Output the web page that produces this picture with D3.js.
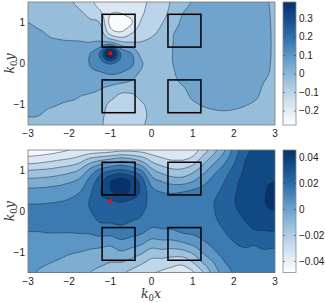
<!DOCTYPE html>
<html>
<head>
<meta charset="utf-8">
<script src="https://cdn.jsdelivr.net/npm/d3@7"></script>
<style>
  body { margin: 0; background: #fff; }
  svg { display: block; }
</style>
</head>
<body>
<script>
// grid positions (k0 x, k0 y)
const gridX = [-3, -2.75, -2.5, -2.25, -2, -1.75, -1.5, -1.25, -1, -0.75, -0.5, -0.25, 0,
  0.25, 0.5, 0.75, 1, 1.25, 1.5, 1.75, 2, 2.25, 2.5, 2.75, 3];
const gridY = [1.5, 1.25, 1, 0.75, 0.5, 0.25, 0, -0.25, -0.5, -0.75, -1, -1.25, -1.5];

// field values, one column (fixed x) per line, top to bottom, in units of 0.01
const topColumns = [
  [-2, -0.5, 2, 4, 5, 5.5, 6, 6, 5.5, 4.5, 3.5, 2.3, 1],
  [-2.5, -1.2, 0.5, 3, 5, 5.7, 6.2, 6.3, 5.8, 4.8, 3.8, 2.2, 0.8],
  [-3, -1.8, -0.5, 1.4, 3.3, 5.8, 6.5, 6.5, 6, 5, 2.8, 1, 0.3],
  [-3.5, -2.3, -1, 0.8, 2.8, 6, 6.8, 6.8, 6.2, 4.8, 2, 0.8, 0],
  [-5, -3, -1.2, 0.5, 2.6, 6.3, 7.2, 7.2, 6.5, 4.5, 1, 0.2, -0.5],
  [-8, -5, -2, 0.5, 2.5, 6.8, 7.8, 7.5, 6.5, 2.6, 0.8, -0.2, -1],
  [-12, -8.5, -4.5, -1, 2.4, 9.5, 10.2, 8.5, 6, 1.8, 0, -1, -1.5],
  [-17, -13, -6.5, -2, 3.5, 19, 14, 9, 4, 0.5, -2.5, -4, -4.5],
  [-18, -21, -24, -17, 5, 48, 19, 10.5, 3, -2.5, -7.5, -9, -10],
  [-17, -21.5, -26, -21, -3, 18, 14, 9.5, 1.5, -6.5, -10, -12, -12.5],
  [-16, -18, -23, -15, -5, 10.5, 12, 6, 0, -6.5, -11, -13, -13.5],
  [-16, -15.5, -13, -9, -5.5, -0.5, 3, 0.5, -3, -4, -6.8, -7.5, -7],
  [-12, -10, -8.5, -7, -4.5, -2, -1, -1.5, -2.5, -3.5, -4.5, -5, -5],
  [-9.5, -8, -6.3, -4.5, -2.5, -0.5, 0, -0.5, -1, -1.5, -2, -2.5, -3],
  [-5, -4, -2.5, 1, 1.6, 1.9, 1.8, 1, 0.5, 0, -0.5, -1, -1.5],
  [-1, 1.5, 3.5, 5, 5.5, 5.5, 5.2, 4.5, 2.3, 0, -1, -1.5, -2],
  [2.5, 4.5, 6, 6.5, 7, 7, 7, 6.5, 5, 3.5, 1, -0.5, -1],
  [4, 5.5, 7, 7.5, 8, 8, 8, 7.5, 6.5, 5, 2.5, 0, -1],
  [4.5, 6, 7.5, 8, 8.5, 8.5, 8.5, 8, 7, 5.5, 3.5, 0.5, -1],
  [4.5, 6, 7.5, 8, 8.5, 8.5, 8.5, 8, 7, 5.8, 4, 0.8, -1],
  [4.5, 6, 7.2, 7.8, 8.2, 8.3, 8.2, 7.8, 6.8, 5.5, 3.5, 0.5, -1],
  [4.2, 5.5, 6.5, 7.2, 7.5, 7.5, 7.4, 7, 6, 4.8, 2.5, 0, -1.2],
  [3.8, 4.8, 5.6, 6.2, 6.5, 6.5, 6.3, 5.8, 4.8, 3.6, 1.2, -0.5, -1.5],
  [3, 3.6, 4, 4.3, 4.5, 4.5, 4.2, 3.2, 1.5, 0.3, -0.5, -1.2, -1.8],
  [0.5, 0.6, 0.7, 0.8, 0.8, 0.7, 0.5, 0.5, -0.3, -0.8, -1.2, -1.6, -2]
];

const bottomColumns = [
  [-4.6, -3.5, -2, -0.75, 0.22, 0.78, 1.45, 1.4, 1, 0.75, 0.55, 0.35, 0.15],
  [-4.5, -3.4, -1.9, -0.7, 0.25, 0.8, 1.45, 1.4, 1, 0.7, 0.45, 0.2, -0.05],
  [-4.4, -3.2, -1.8, -0.6, 0.3, 0.85, 1.5, 1.4, 1.05, 0.65, 0.35, 0.05, -0.25],
  [-4.2, -3, -1.6, -0.45, 0.4, 0.95, 1.55, 1.45, 1.05, 0.6, 0.25, -0.1, -0.45],
  [-4, -2.8, -1.35, -0.2, 0.6, 1.1, 1.6, 1.5, 1.05, 0.55, 0.1, -0.3, -0.7],
  [-3.8, -2.4, -0.9, 0.2, 0.9, 1.4, 1.7, 1.55, 1.1, 0.5, 0, -0.45, -0.85],
  [-3.6, -1.6, 0.25, 1.3, 1.75, 2.05, 1.95, 1.65, 1.15, 0.45, -0.15, -0.6, -1],
  [-3.5, -1.1, 1.3, 2.5, 2.95, 2.7, 2.4, 2.05, 1.4, 0.5, -0.3, -0.8, -1.2],
  [-3.4, -0.7, 1.9, 3.85, 3.9, 2.9, 2.55, 2.1, 1.4, 0.4, -0.5, -1, -1.4],
  [-3.2, -0.3, 2.2, 4.35, 4.6, 3.1, 2.6, 2.2, 1.6, 0.8, -0.1, -1, -1.8],
  [-3.2, -0.6, 1.8, 3.85, 3.85, 2.9, 2.4, 2, 1.4, 0.6, -0.4, -1.3, -2.2],
  [-3.3, -1.2, 1, 2.5, 2.8, 2.5, 2.15, 1.8, 1.2, 0.3, -0.8, -1.8, -2.6],
  [-3.5, -2.2, -0.7, 0.5, 1.3, 1.6, 1.6, 1.35, 0.7, -0.3, -1.4, -2.3, -2.9],
  [-3.7, -2.7, -1.4, -0.1, 0.9, 1.4, 1.55, 1.35, 0.8, -0.2, -1.3, -2.4, -3.1],
  [-3.8, -3, -1.8, -0.5, 0.8, 1.35, 1.5, 1.35, 0.85, -0.2, -1.4, -2.6, -3.3],
  [-3.8, -3, -1.8, -0.55, 0.9, 1.35, 1.5, 1.35, 1.1, 0.05, -1.3, -2.7, -3.5],
  [-3.5, -2.6, -1.3, -0.1, 1.1, 1.5, 1.6, 1.5, 1.2, 0.4, -0.8, -2, -3.1],
  [-2.5, -1.5, -0.4, 0.6, 1.35, 1.7, 1.75, 1.65, 1.4, 0.9, 0.1, -0.9, -2],
  [-1.4, -0.4, 0.6, 1.3, 1.7, 1.95, 1.95, 1.85, 1.6, 1.3, 0.8, 0, -0.6],
  [-0.2, 0.6, 1.4, 1.9, 2.2, 2.4, 2.35, 2.2, 1.95, 1.7, 1.35, 0.9, 0.4],
  [1.3, 1.8, 2.3, 2.7, 2.85, 2.95, 2.85, 2.6, 2.3, 2, 1.7, 1.4, 1.1],
  [2.6, 2.9, 3.1, 3.25, 3.35, 3.4, 3.2, 2.95, 2.55, 2.2, 1.85, 1.55, 1.3],
  [3.2, 3.4, 3.55, 3.7, 3.85, 3.9, 3.7, 3.35, 2.9, 2.15, 1.85, 1.7, 1.45],
  [3.5, 3.65, 3.8, 3.9, 3.95, 3.98, 3.85, 3.5, 2.95, 2.35, 1.9, 1.7, 1.5],
  [3.7, 3.8, 3.85, 3.95, 4.4, 4.5, 3.95, 3.55, 3, 2.3, 1.85, 1.6, 1.5]
];

// contour levels (units of 0.01)
const topLevels = [-22, -14, -6, 2, 10, 18, 26, 34, 42];
const bottomLevels = [-4, -3, -2, -1, 0, 1, 2, 3, 4];

// colour bar ranges and ticks
const topRange = [-0.276, 0.389];
const bottomRange = [-0.0485, 0.0458];
const topBarTicks = [-0.2, -0.1, 0, 0.1, 0.2, 0.3];
const bottomBarTicks = [-0.04, -0.02, 0, 0.02, 0.04];
const axisTicksX = [-3, -2, -1, 0, 1, 2, 3];
const axisTicksY = [-1, 0, 1];

// scatterers (squares) and source
const boxX0 = [-1.2, 0.4, -1.2, 0.4];
const boxY0 = [0.4, 0.4, -1.2, -1.2];
const boxSize = 0.8;
const source = [-1, 0.25];

const cmapStops = [0, 0.114, 0.265, 0.415, 0.565, 0.716, 0.866, 1];
const cmapColors = ["#ffffff", "#e3edf6", "#bcd4e9", "#8cb8d8", "#5d97c6", "#2f6faa", "#134d8a", "#08306b"];
const cmap = d3.scaleLinear().domain(cmapStops).range(cmapColors).clamp(true);

const W = 325, H = 303;
const svg = d3.select("body").append("svg").attr("width", W).attr("height", H)
  .style("font-family", "'Liberation Sans', Arial, sans-serif");

const x = d3.scaleLinear().domain([-3, 3]).range([28, 275]);

// smooth the grid for drawing (Catmull-Rom, clamped to each cell)
function refine(columns, f) {
  const nx = columns.length, ny = columns[0].length;
  const g = (i, j) => columns[Math.max(0, Math.min(nx - 1, i))][Math.max(0, Math.min(ny - 1, j))];
  const cr = (p0, p1, p2, p3, t) =>
    0.5 * (2 * p1 + (p2 - p0) * t + (2 * p0 - 5 * p1 + 4 * p2 - p3) * t * t + (3 * p1 - p0 - 3 * p2 + p3) * t * t * t);
  const NX = (nx - 1) * f + 1, NY = (ny - 1) * f + 1;
  const out = new Float64Array(NX * NY);
  for (let J = 0; J < NY; J++) {
    const j = Math.min(ny - 2, Math.floor(J / f)), ty = J / f - j;
    for (let I = 0; I < NX; I++) {
      const i = Math.min(nx - 2, Math.floor(I / f)), tx = I / f - i;
      const r = [-1, 0, 1, 2].map(dj => cr(g(i - 1, j + dj), g(i, j + dj), g(i + 1, j + dj), g(i + 2, j + dj), tx));
      let v = cr(r[0], r[1], r[2], r[3], ty);
      const c = [g(i, j), g(i + 1, j), g(i, j + 1), g(i + 1, j + 1)];
      v = Math.max(Math.min(...c), Math.min(Math.max(...c), v));
      out[J * NX + I] = v;
    }
  }
  return {values: out, NX, NY};
}

function panel(opts) {
  const {columns, levels, range, barTicks, top, bottom, id, fmt, showXLabel} = opts;
  const y = d3.scaleLinear().domain([-1.5, 1.5]).range([bottom, top]);
  const norm = v => (v / 100 - range[0]) / (range[1] - range[0]);
  const step = levels[1] - levels[0];
  const bandColor = v => cmap(norm(v));

  const f = 8;
  const {values, NX, NY} = refine(columns, f);
  const dxs = (gridX[gridX.length - 1] - gridX[0]) / (NX - 1);
  const dys = (gridY[0] - gridY[gridY.length - 1]) / (NY - 1);
  const proj = d3.geoTransform({
    point(u, v) {
      this.stream.point(x(gridX[0] + (u - 0.5) * dxs), y(gridY[0] - (v - 0.5) * dys));
    }
  });
  const path = d3.geoPath(proj);
  const contours = d3.contours().size([NX, NY]).thresholds(levels)(values);

  svg.append("clipPath").attr("id", id)
    .append("rect").attr("x", x(-3)).attr("y", top).attr("width", x(3) - x(-3)).attr("height", bottom - top);

  const g = svg.append("g").attr("clip-path", `url(#${id})`);
  g.append("rect").attr("x", x(-3)).attr("y", top).attr("width", x(3) - x(-3)).attr("height", bottom - top)
    .attr("fill", bandColor(levels[0] - step / 2));
  g.selectAll("path.fill").data(contours).join("path").attr("class", "fill")
    .attr("d", path).attr("fill", d => bandColor(d.value + step / 2)).attr("stroke", "none");
  g.selectAll("path.line").data(contours).join("path").attr("class", "line")
    .attr("d", path).attr("fill", "none").attr("stroke", "#1e2a36").attr("stroke-width", 0.6).attr("stroke-opacity", 0.85);

  // scatterers
  g.selectAll("rect.box").data(boxX0).join("rect").attr("class", "box")
    .attr("x", (d) => x(d)).attr("y", (d, i) => y(boxY0[i] + boxSize))
    .attr("width", x(boxSize) - x(0)).attr("height", y(0) - y(boxSize))
    .attr("fill", "none").attr("stroke", "#000").attr("stroke-width", 1.5);
  g.append("circle").attr("cx", x(source[0])).attr("cy", y(source[1])).attr("r", 2.1).attr("fill", "#f00");

  svg.append("rect").attr("x", x(-3)).attr("y", top).attr("width", x(3) - x(-3)).attr("height", bottom - top)
    .attr("fill", "none").attr("stroke", "#777").attr("stroke-width", 0.8);

  // axis tick labels
  svg.append("g").selectAll("text").data(axisTicksX).join("text")
    .attr("x", d => x(d)).attr("y", bottom + 12).attr("text-anchor", "middle")
    .attr("font-size", 10).attr("fill", "#222").text(d => d < 0 ? "\u2212" + (-d) : d);
  svg.append("g").selectAll("text").data(axisTicksY).join("text")
    .attr("x", 25).attr("y", d => y(d) + 3.5).attr("text-anchor", "end")
    .attr("font-size", 10).attr("fill", "#222").text(d => d < 0 ? "\u2212" + (-d) : d);

  const yl = svg.append("text").attr("transform", `translate(14,${(top + bottom) / 2}) rotate(-90)`)
    .attr("text-anchor", "middle").attr("font-family", "'DejaVu Serif', 'Liberation Serif', serif")
    .attr("font-size", 12.5).attr("fill", "#333");
  yl.append("tspan").attr("font-style", "italic").text("k");
  yl.append("tspan").attr("font-size", 8.5).attr("dy", 2.5).text("0");
  yl.append("tspan").attr("font-style", "italic").attr("dy", -2.5).text("y");

  if (showXLabel) {
    const xl = svg.append("text").attr("x", 151).attr("y", 298)
      .attr("text-anchor", "middle").attr("font-family", "'DejaVu Serif', 'Liberation Serif', serif")
      .attr("font-size", 12.5).attr("fill", "#333");
    xl.append("tspan").attr("font-style", "italic").text("k");
    xl.append("tspan").attr("font-size", 8.5).attr("dy", 2.5).text("0");
    xl.append("tspan").attr("font-style", "italic").attr("dy", -2.5).text("x");
  }

  // colour bar
  const cb = d3.scaleLinear().domain(range).range([bottom, top]);
  const grad = svg.append("defs").append("linearGradient").attr("id", id + "g")
    .attr("x1", 0).attr("y1", 1).attr("x2", 0).attr("y2", 0);
  grad.selectAll("stop").data(d3.range(0, 1.0001, 0.05)).join("stop")
    .attr("offset", d => d).attr("stop-color", d => cmap(d));
  const bx0 = 283, bx1 = 296;
  svg.append("rect").attr("x", bx0).attr("y", top).attr("width", bx1 - bx0).attr("height", bottom - top)
    .attr("fill", `url(#${id}g)`).attr("stroke", "#888").attr("stroke-width", 0.8);
  const tk = svg.append("g").selectAll("g").data(barTicks).join("g");
  tk.append("line").attr("x1", bx0).attr("x2", bx0 + 2).attr("y1", d => cb(d)).attr("y2", d => cb(d))
    .attr("stroke", "#444").attr("stroke-width", 0.6);
  tk.append("line").attr("x1", bx1 - 2).attr("x2", bx1).attr("y1", d => cb(d)).attr("y2", d => cb(d))
    .attr("stroke", "#444").attr("stroke-width", 0.6);
  tk.append("text").attr("x", 299).attr("y", d => cb(d) + 3.5).attr("font-size", 10).attr("fill", "#222")
    .text(d => fmt(d));
}

const fmtTop = d => d === 0 ? "0" : (d < 0 ? "\u2212" : "") + Math.abs(d).toFixed(1);
const fmtBottom = d => d === 0 ? "0" : (d < 0 ? "\u2212" : "") + Math.abs(d).toFixed(2);

panel({columns: topColumns, levels: topLevels, range: topRange, barTicks: topBarTicks,
  top: 2, bottom: 125, id: "p1", fmt: fmtTop, showXLabel: false});
panel({columns: bottomColumns, levels: bottomLevels, range: bottomRange, barTicks: bottomBarTicks,
  top: 150, bottom: 272.5, id: "p2", fmt: fmtBottom, showXLabel: true});
</script>
</body>
</html>
